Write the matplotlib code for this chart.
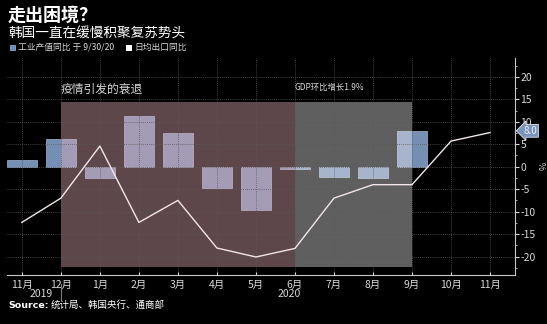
import matplotlib

matplotlib.use("Agg")
import matplotlib.pyplot as plt
import matplotlib.transforms as mtransforms
from matplotlib.patches import Rectangle

plt.rcParams["font.family"] = ["Noto Sans CJK SC", "DejaVu Sans"]
plt.rcParams["axes.unicode_minus"] = False

# 月度数据：2019年11月 - 2020年11月
months = ["11月", "12月", "1月", "2月", "3月", "4月", "5月",
          "6月", "7月", "8月", "9月", "10月", "11月"]
ip_yoy = [1.4, 6.1, -2.6, 11.3, 7.6, -4.8, -9.6, -0.5, -2.2, -2.6, 8.0]
export_yoy = [-12.4, -7.0, 4.6, -12.4, -7.5, -18.1, -20.1, -18.2,
              -7.0, -4.0, -4.0, 5.7, 7.6]

# 阴影区间（按月份序号）
recession_span = (1, 7)
recovery_span = (7, 10)
span_low, span_high = -22.4, 14.5

BG = "black"
BAR_BLUE = "#758fb4"
TXT = "#d8d8d8"
GRID = "#5a5a5a"

fig = plt.figure(figsize=(5.47, 3.24), dpi=100, facecolor=BG)
ax = fig.add_axes([0.0128, 0.150, 0.9287, 0.671], facecolor=BG)

x_ip = list(range(len(ip_yoy)))
x_ex = list(range(len(export_yoy)))

ax.bar(x_ip, ip_yoy, width=0.77, color=BAR_BLUE, edgecolor="#a3b6d2",
       linewidth=0.5, zorder=1)

ax.add_patch(Rectangle((recession_span[0], span_low),
                       recession_span[1] - recession_span[0], span_high - span_low,
                       facecolor=(235 / 255, 178 / 255, 190 / 255), alpha=0.4,
                       edgecolor="none", zorder=2))
ax.add_patch(Rectangle((recovery_span[0], span_low),
                       recovery_span[1] - recovery_span[0], span_high - span_low,
                       facecolor=(240 / 255, 240 / 255, 240 / 255), alpha=0.4,
                       edgecolor="none", zorder=2))

ax.plot(x_ex, export_yoy, color="#f2e6e8", linewidth=1.0, zorder=3)

ax.text(recession_span[0], span_high + 2.8, "疫情引发的衰退", color=TXT,
        fontsize=8.5, ha="left", va="center")
ax.text(recovery_span[0], span_high + 3.2, "GDP环比增长1.9%", color=TXT,
        fontsize=6, ha="left", va="center")

ax.set_xlim(-0.38, 12.64)
ax.set_ylim(-24.2, 24.2)
ax.set_xticks(x_ex)
ax.set_xticklabels(months)
ax.set_yticks(range(-20, 21, 5))
ax.set_yticks([v + 2.5 for v in range(-25, 21, 5)], minor=True)
ax.yaxis.tick_right()

ax.set_axisbelow(False)
ax.grid(True, color=GRID, linestyle=(0, (1, 1.5)), linewidth=0.6)

for side in ("top", "left"):
    ax.spines[side].set_visible(False)
for side in ("bottom", "right"):
    ax.spines[side].set_color("#c8c8c8")
    ax.spines[side].set_linewidth(0.8)

ax.tick_params(axis="x", colors=TXT, labelsize=7.5, length=2, direction="in", pad=3)
ax.tick_params(axis="y", which="major", colors=TXT, labelsize=7.5, length=3, pad=1)
ax.tick_params(axis="y", which="minor", colors="#c8c8c8", length=1.5)

# 年份标签和分隔线
blend = mtransforms.blended_transform_factory(ax.transData, ax.transAxes)
ax.text(0.5, -0.085, "2019", color=TXT, fontsize=7.5, ha="center", va="center",
        transform=blend)
ax.text(6.85, -0.085, "2020", color=TXT, fontsize=7.5, ha="center", va="center",
        transform=blend)
ax.plot([1, 1], [-0.04, -0.115], color="#909090", linewidth=0.6,
        transform=blend, clip_on=False)

# 最新值标签
blend_y = mtransforms.blended_transform_factory(ax.transAxes, ax.transData)
ax.text(1.016, ip_yoy[-1], "8.0", color="#f0f0f0", fontsize=7, ha="left",
        va="center", transform=blend_y,
        bbox=dict(boxstyle="larrow,pad=0.15", facecolor="#7a95bd",
                  edgecolor="white", linewidth=0.5))
fig.text(0.994, 1 - 166 / 324, "%", color=TXT, fontsize=6.5, rotation=90,
         ha="center", va="center")

# 标题、图例与来源
fig.text(0.013, 1 - 15 / 324, "走出困境？", color="white", fontsize=13,
         fontweight="bold", ha="left", va="center")
fig.text(0.015, 1 - 33 / 324, "韩国一直在缓慢积聚复苏势头", color="white",
         fontsize=9.8, ha="left", va="center")

leg_y = 1 - 47 / 324
fig.patches.append(Rectangle((0.019, leg_y - 0.011), 0.0105, 0.018,
                             transform=fig.transFigure, facecolor=BAR_BLUE,
                             edgecolor="none"))
fig.text(0.033, leg_y, "工业产值同比 于 9/30/20", color=TXT, fontsize=6.3,
         ha="left", va="center")
fig.patches.append(Rectangle((0.231, leg_y - 0.011), 0.0105, 0.018,
                             transform=fig.transFigure, facecolor="white",
                             edgecolor="none"))
fig.text(0.245, leg_y, "日均出口同比", color=TXT, fontsize=6.3,
         ha="left", va="center")

fig.text(0.016, 1 - 305 / 324, "Source:", color="white", fontsize=6.8,
         fontweight="bold", ha="left", va="center", family="DejaVu Sans")
fig.text(0.093, 1 - 305 / 324, "统计局、韩国央行、通商部", color="white",
         fontsize=6.8, ha="left", va="center")

fig.savefig("out.png", dpi=100, facecolor=BG)
